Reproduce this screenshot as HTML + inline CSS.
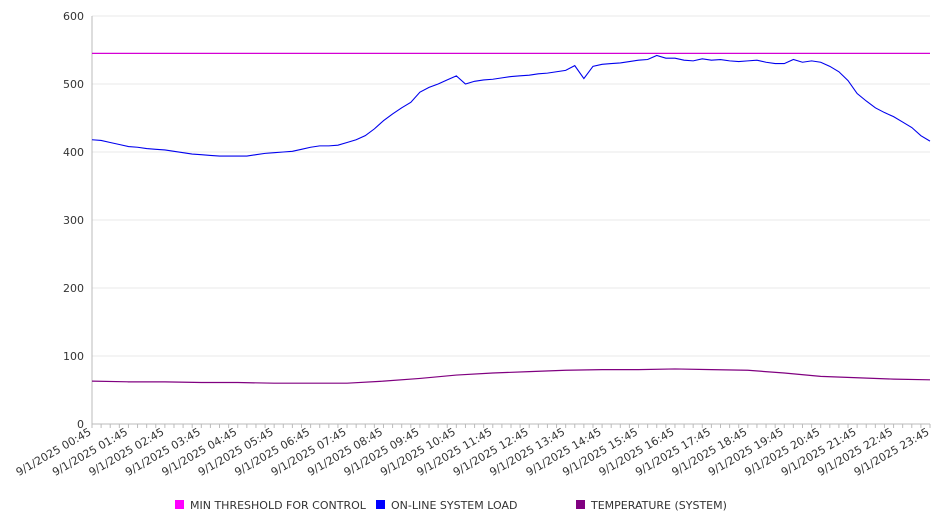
<!DOCTYPE html>
<html><head><meta charset="utf-8"><style>
body{margin:0;background:#fff;font-family:"DejaVu Sans","Liberation Sans",sans-serif}
svg text{font-family:"DejaVu Sans","Liberation Sans",sans-serif}
</style></head><body>
<svg id="chart" width="946" height="526" xmlns="http://www.w3.org/2000/svg"></svg>
<script>
const yTicks=[0,100,200,300,400,500,600];
const hourLabels=["00:45","01:45","02:45","03:45","04:45","05:45","06:45","07:45","08:45","09:45","10:45","11:45","12:45","13:45","14:45","15:45","16:45","17:45","18:45","19:45","20:45","21:45","22:45","23:45"];
const thresholdValue=545;
const loadValues=[418,417,414,411,408,407,405,404,403,401,399,397,396,395,394,394,394,394,396,398,399,400,401,404,407,409,409,410,414,418,424,434,446,456,465,473,488,495,500,506,512,500,504,506,507,509,511,512,513,515,516,518,520,527,508,526,529,530,531,533,535,536,542,538,538,535,534,537,535,536,534,533,534,535,532,530,530,536,532,534,532,526,518,505,486,475,465,458,452,444,436,424,416];
const tempValues=[63,62,62,61,61,60,60,60,63,67,72,75,77,79,80,80,81,80,79,75,70,68,66,65];
const X0=92,X1=930,Y0=424,Y1=16;
const x=h=>X0+(X1-X0)*h/23;
const y=v=>Y0-(Y0-Y1)*v/600;
const svg=document.getElementById('chart');
const NS="http://www.w3.org/2000/svg";
function mk(t,a){const e=document.createElementNS(NS,t);for(const k in a)e.setAttribute(k,a[k]);svg.appendChild(e);return e;}
yTicks.forEach(v=>{
 const g=mk('line',{x1:X0,x2:X1,y1:y(v),y2:y(v),stroke:v===0?'#bbb':'#e8e8e8','stroke-width':1});
 
 
 const t=mk('text',{x:84,y:y(v)+4,'text-anchor':'end','font-size':11,fill:'#333'});
 t.textContent=v;
 
 
});
const ax=mk('line',{x1:X0,x2:X0,y1:Y1,y2:Y0,stroke:'#bbb'});


for(let i=0;i<=92;i++){
 const tk=mk('line',{x1:x(i/4),x2:x(i/4),y1:Y0,y2:Y0+4,stroke:'#bbb'});
 
 
}
hourLabels.forEach((l,i)=>{
 const t=mk('text',{x:x(i),y:Y0+10,'text-anchor':'end','font-size':11,fill:'#333',transform:`rotate(-30 ${x(i)} ${Y0+10})`});
 t.textContent='9/1/2025 '+l;
 
 
});
const th=mk('line',{x1:X0,x2:X1,y1:y(thresholdValue),y2:y(thresholdValue),stroke:'#d400d4','stroke-width':1.2});


const lp=mk('polyline',{points:loadValues.map((v,i)=>x(i/4)+','+y(v)).join(' '),fill:'none',stroke:'#0000ee','stroke-width':1.1});


const tp=mk('polyline',{points:tempValues.map((v,i)=>x(i)+','+y(v)).join(' '),fill:'none',stroke:'#800080','stroke-width':1.2});


[['MIN THRESHOLD FOR CONTROL','#ff00ff',175],['ON-LINE SYSTEM LOAD','#0000ff',376],['TEMPERATURE (SYSTEM)','#800080',576]].forEach(([n,c,lx])=>{
 const r=mk('rect',{x:lx,y:500,width:9,height:9,fill:c});
 
 
 const t=mk('text',{x:lx+15,y:509,'font-size':11,fill:'#333'});
 t.textContent=n;
 
 
});
</script>
</body></html>
